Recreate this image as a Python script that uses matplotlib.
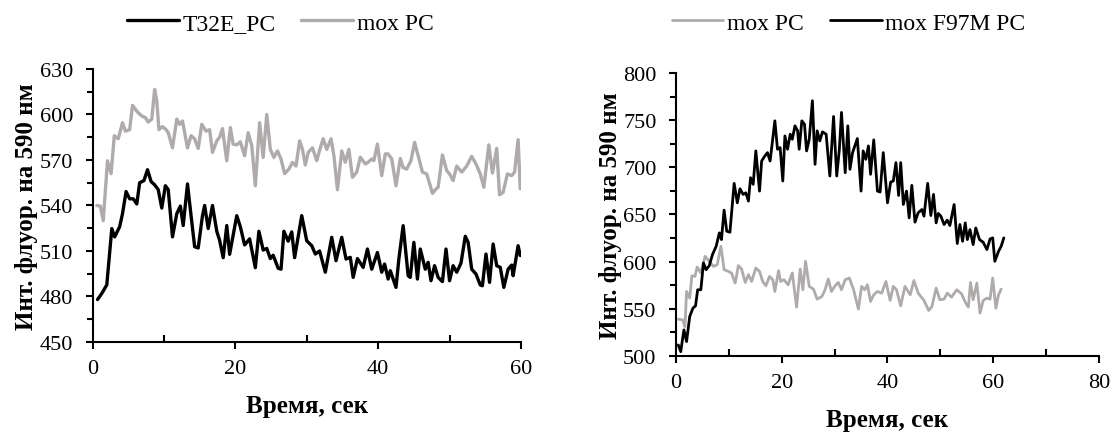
import matplotlib
matplotlib.use("Agg")
import matplotlib.pyplot as plt
from matplotlib.ticker import MultipleLocator

plt.rcParams['font.family'] = ['Liberation Serif', 'DejaVu Serif']
plt.rcParams['lines.solid_joinstyle'] = 'round'
plt.rcParams['lines.solid_capstyle'] = 'round'

# левый график: T32E_PC и mox PC
t_mox_l = [0.6, 1.1, 1.5, 2.1, 2.6, 3.05, 3.6, 4.2, 4.6, 5.2, 5.6, 6.3, 6.9, 7.4, 7.8, 8.3, 8.7, 9.0, 9.3, 9.8,
           10.3, 10.6, 11.2, 11.8, 12.2, 12.6, 13.3, 13.8, 14.3, 14.8, 15.3, 15.9, 16.4, 16.8, 17.4, 17.8, 18.2, 18.8, 19.3, 19.7,
           20.2, 20.7, 21.3, 21.8, 22.3, 22.8, 23.4, 23.9, 24.4, 24.9, 25.4, 25.9, 26.4, 26.9, 27.5, 28.0, 28.5, 29.0, 29.4, 29.8,
           30.2, 30.8, 31.4, 31.9, 32.3, 32.8, 33.4, 33.8, 34.3, 34.9, 35.4, 35.9, 36.4, 37.0, 37.5, 38.2, 38.6, 39.1, 39.4, 39.9,
           40.5, 41.0, 41.4, 41.9, 42.5, 43.1, 43.5, 44.0, 44.6, 45.1, 45.6, 46.2, 46.8, 47.3, 47.6, 48.1, 48.4, 49.0, 49.6, 50.0,
           50.5, 51.0, 51.7, 52.4, 53.1, 53.7, 54.3, 54.8, 55.5, 56.0, 56.6, 57.0, 57.5, 58.1, 58.7, 59.1, 59.6, 59.9]
mox_l = [540, 539.6, 530, 569.5, 561, 586, 584, 594.6, 589, 590, 606, 601.6, 599, 598, 595, 597, 616.5, 609, 590, 592,
         590, 588, 578, 597, 593.5, 595.7, 578, 586, 584, 577.6, 593.5, 589, 590, 575, 582.6, 585, 590.7, 569.5, 591.4, 580.4,
         580, 582, 572.8, 588, 579.4, 553, 594.6, 571.7, 600, 577, 571.7, 576, 570.6, 561, 564, 568.4, 566, 582.6, 577, 566.7,
         575, 578, 569.6, 578, 584, 577, 584, 573, 550.4, 576, 568.5, 577, 558.6, 562, 571.8, 567.4, 568.5, 570.7, 569.6, 580.5,
         559.7, 574, 574, 570.7, 553, 571, 565, 564, 569.6, 581.6, 572.9, 562, 560.8, 553, 548, 550.9, 552, 573.3, 563, 560.8,
         556.4, 566, 562, 566, 572.4, 567.4, 560.8, 552, 580, 561.4, 577.7, 547, 548.7, 560.8, 559.7, 562, 583.4, 551]

t_t32e = [0.7, 1.3, 2.0, 2.7, 3.1, 3.8, 4.2, 4.7, 5.2, 5.7, 6.2, 6.6, 7.2, 7.7, 8.2, 8.7, 9.2, 9.7, 10.2, 10.6,
          11.2, 11.8, 12.3, 12.7, 13.3, 13.8, 14.3, 14.8, 15.4, 15.7, 16.2, 16.8, 17.4, 17.8, 18.3, 18.8, 19.2, 20.2, 20.7, 21.3,
          22.0, 22.8, 23.3, 23.9, 24.4, 24.9, 25.3, 26.0, 26.4, 26.8, 27.4, 27.9, 28.3, 29.3, 30.0, 30.7, 31.2, 31.8, 32.6, 33.5,
          34.1, 34.9, 35.5, 36.1, 36.5, 37.1, 37.9, 38.5, 39.1, 39.9, 40.5, 40.9, 41.4, 41.7, 42.5, 42.9, 43.5, 44.2, 44.5, 45.0,
          45.5, 45.9, 46.6, 47.0, 47.4, 47.9, 48.4, 49.0, 49.5, 50.0, 50.5, 51.0, 51.6, 52.2, 52.6, 53.1, 53.7, 54.3, 54.6, 55.1,
          55.6, 56.1, 56.6, 57.1, 57.6, 58.2, 58.7, 58.9, 59.6, 59.9]
t32e = [478, 482, 487.7, 524.8, 519.3, 526, 534.6, 549.2, 544.4, 544.4, 541, 555, 556.4, 563.6, 555.8, 553.6, 550.5, 538.3, 553, 550.5,
        519.3, 534.6, 539.6, 526.8, 554.2, 533.3, 512.8, 512, 533.3, 540, 524.8, 540, 523, 517, 505.6, 526.8, 507.8, 533.3, 526, 514,
        518, 499, 523, 510.6, 511.7, 505, 507.2, 498.6, 498, 523, 516.5, 522.6, 505.6, 533.3, 516.7, 513.5, 508, 510, 496, 519,
        503.6, 519, 504.7, 505.8, 492.6, 505, 499.2, 511.3, 498, 509, 496, 501.4, 491.5, 497, 486, 504.7, 526.7, 493.7, 492.6, 515.7,
        491.5, 511.3, 498, 502.5, 490.4, 500.3, 492.6, 489.8, 511.3, 490.4, 500.3, 496, 502, 519.7, 515.7, 498, 494.8, 487.6, 487.1, 508,
        489.3, 514.6, 500.3, 499.2, 486, 498, 500.7, 493.7, 513.5, 507]

# правый график: mox PC и mox F97M PC
t_mox_r = [0.44, 1.26, 1.7, 2.0, 2.6, 3.0, 3.6, 4.0, 4.7, 5.5, 6.3, 7.1, 7.8, 8.5, 9.1, 9.9, 10.5, 11.2, 11.8, 12.4,
           13.1, 13.7, 14.3, 15.1, 15.8, 16.4, 17.0, 17.7, 18.3, 18.7, 19.4, 19.8, 20.4, 21.2, 22.0, 22.8, 23.5, 24.0, 24.5, 25.2,
           26.0, 26.7, 27.6, 28.2, 28.8, 29.4, 30.1, 30.7, 31.3, 32.0, 32.8, 33.6, 34.5, 35.1, 35.7, 36.2, 36.8, 37.4, 38.1, 38.9,
           39.7, 40.5, 41.1, 41.7, 42.5, 43.3, 44.3, 45.0, 45.8, 46.9, 47.8, 48.4, 49.2, 49.9, 50.7, 51.3, 52.1, 53.1, 54.0, 54.8,
           55.3, 55.7, 56.2, 56.9, 57.5, 58.1, 58.8, 59.4, 59.9, 60.5, 61.0, 61.5]
mox_r = [539, 538.3, 531, 568.4, 561.4, 585, 584.4, 594.3, 588, 605.7, 600.4, 595, 596.8, 616.3, 591.5, 589.7, 588, 577.3, 595.8, 592.2,
         578, 586.2, 579, 593.3, 589.7, 579, 574.5, 584.4, 580.9, 568.4, 590.4, 579, 580.9, 575.5, 588, 551.8, 592.2, 570.2, 600.4, 573.8,
         570.9, 560.3, 563.1, 570.2, 581.6, 568.4, 574.5, 578, 570.2, 580.9, 582.6, 570, 549.7, 573.8, 570.2, 575.5, 557.8, 564.9, 568.4, 566.7,
         579, 558.9, 573.8, 570.2, 553.2, 573.8, 564.9, 580.1, 566.7, 558.9, 548.2, 552.5, 572, 559.6, 560.3, 566.7, 562.4, 570.2, 566, 556,
         551.8, 578, 559.6, 577.3, 545.4, 558.9, 561.4, 560.3, 582.6, 550.7, 564.9, 570.9]

t_f97m = [0.44, 0.9, 1.5, 2.0, 2.6, 3.2, 3.7, 4.1, 4.7, 5.2, 5.7, 6.3, 6.9, 7.6, 8.2, 8.6, 9.1, 9.6, 10.2, 11.0,
          11.6, 12.1, 12.7, 13.2, 13.7, 14.1, 14.6, 15.1, 15.8, 16.2, 16.8, 17.3, 17.8, 18.7, 19.2, 19.7, 20.2, 20.6, 21.1, 21.6,
          22.0, 22.5, 23.0, 23.3, 23.8, 24.3, 24.7, 25.2, 25.8, 26.3, 26.7, 27.2, 27.7, 28.4, 29.1, 29.8, 30.4, 30.9, 31.3, 32.0,
          32.5, 32.9, 33.4, 34.3, 35.0, 35.4, 35.9, 36.4, 36.8, 37.4, 38.1, 38.6, 39.2, 40.0, 40.6, 41.1, 41.6, 42.1, 42.5, 43.0,
          43.6, 44.1, 44.6, 45.2, 45.8, 46.5, 46.9, 47.6, 48.2, 48.7, 49.2, 49.6, 50.1, 50.7, 51.3, 51.8, 52.6, 53.2, 53.7, 54.2,
          54.7, 55.1, 55.6, 56.2, 56.7, 57.4, 58.1, 58.8, 59.4, 59.9, 60.3, 61.0, 61.5, 62.0]
f97m = [511.7, 504.6, 527.7, 515.3, 541.9, 550.7, 553.2, 570.2, 570.2, 598.6, 591.5, 595.8, 607.5, 616.3, 630.5, 623.4, 654.6, 632.3, 631.2, 683,
        662.4, 677.3, 671.3, 673, 664.2, 689, 682, 717.4, 674.8, 706.7, 712, 715.6, 706.7, 749.3, 719.2, 720.9, 685.5, 733.3, 719.2, 735.1,
        729.8, 744, 738.7, 719.2, 749.3, 745.7, 717.4, 729.8, 770.6, 703.2, 738.7, 728, 737.6, 735.1, 690.8, 753.9, 690.8, 719.2, 758.2, 694.3,
        744, 697.9, 715.6, 730.5, 674.8, 717.4, 708.5, 722.7, 692.6, 729.1, 674.8, 673.8, 715.6, 662.4, 684.4, 685.5, 705, 670.2, 705, 660.6,
        674.8, 646.5, 680.9, 641.9, 651.8, 655.3, 648.2, 683, 648.9, 671.3, 641.1, 651.1, 648.2, 639.4, 644, 638.3, 660.6, 619.2, 639.4, 621.6,
        641.1, 623.4, 634, 618.1, 635.8, 623.4, 620.6, 612.8, 624.1, 625.2, 600.4, 611, 616.3, 625.2]

GRAY = '#afabab'
BLACK = '#000000'

fig = plt.figure(figsize=(11.12, 4.35), dpi=100)
ax1 = fig.add_axes([0.0832, 0.2115, 0.3853, 0.6276])
ax2 = fig.add_axes([0.6079, 0.1793, 0.3804, 0.6506])

l1, = ax1.plot(t_t32e, t32e, color=BLACK, lw=2.4, label='T32E_PC')
l2, = ax1.plot(t_mox_l, mox_l, color=GRAY, lw=2.4, label='mox PC')
ax1.set_xlim(0, 60)
ax1.set_ylim(450, 630)
ax1.xaxis.set_major_locator(MultipleLocator(20))
ax1.xaxis.set_minor_locator(MultipleLocator(10))
ax1.yaxis.set_major_locator(MultipleLocator(30))
ax1.yaxis.set_minor_locator(MultipleLocator(15))

r1, = ax2.plot(t_mox_r, mox_r, color=GRAY, lw=2.0, label='mox PC')
r2, = ax2.plot(t_f97m, f97m, color=BLACK, lw=2.0, label='mox F97M PC')
ax2.set_xlim(0, 80)
ax2.set_ylim(500, 800)
ax2.xaxis.set_major_locator(MultipleLocator(20))
ax2.xaxis.set_minor_locator(MultipleLocator(10))
ax2.yaxis.set_major_locator(MultipleLocator(50))
ax2.yaxis.set_minor_locator(MultipleLocator(25))

for ax in (ax1, ax2):
    ax.spines['top'].set_visible(False)
    ax.spines['right'].set_visible(False)
    ax.spines['left'].set_linewidth(1.5)
    ax.spines['bottom'].set_linewidth(1.5)
    ax.tick_params(axis='both', which='major', direction='out', length=5, width=1.5, labelsize=16)
    ax.tick_params(axis='y', which='major', pad=9)
    ax.tick_params(axis='x', which='major', pad=7)
    ax.tick_params(axis='y', which='minor', direction='out', length=4, width=1.5)
    ax.tick_params(axis='x', which='minor', direction='in', length=5, width=1.5)
    ax.set_xlabel('Время, сек', fontsize=18, fontweight='bold', labelpad=12)
    ax.set_ylabel('Инт. флуор. на 590 нм', fontsize=18, fontweight='bold', labelpad=1)

fig.legend(handles=[l1, l2], loc='center', bbox_to_anchor=(0.252, 0.945), ncol=2,
           frameon=False, fontsize=17, handlelength=2.2, columnspacing=1.1, handletextpad=0.15)
fig.legend(handles=[r1, r2], loc='center', bbox_to_anchor=(0.763, 0.945), ncol=2,
           frameon=False, fontsize=17, handlelength=2.2, columnspacing=1.1, handletextpad=0.15)

plt.savefig('out.png', dpi=100)
